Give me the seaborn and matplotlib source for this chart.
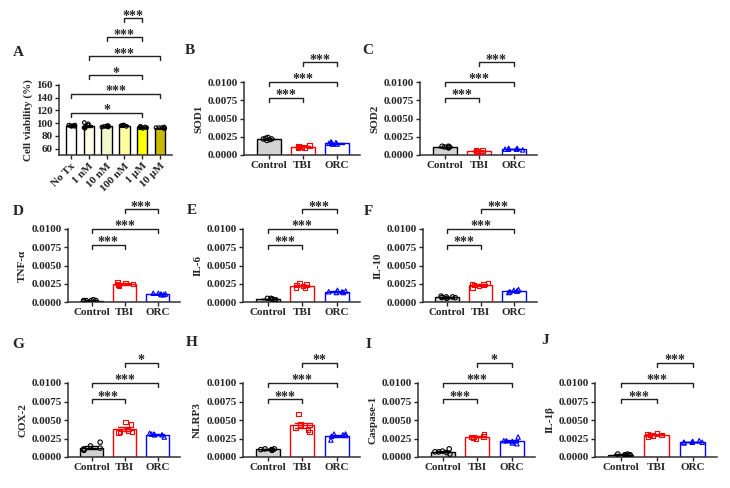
import numpy as np
import pandas as pd
import matplotlib.pyplot as plt
import matplotlib.ticker as mticker
import seaborn as sns

sns.set_style('ticks')
plt.rcParams['font.family'] = ['Liberation Serif', 'DejaVu Serif']
plt.rcParams['font.weight'] = 'bold'
plt.rcParams['axes.labelweight'] = 'bold'

# ---- data ----
dose_groups = ['No Tx', '1 nM', '10 nM', '100 nM', '1 μM', '10 μM']
dose_values = [
    [95, 96, 97, 96, 95, 97],
    [92, 95, 101, 97, 93, 99],
    [94, 95, 96, 95, 94, 96],
    [96, 97, 96, 95, 97, 96],
    [92, 94, 95, 93, 94, 93],
    [92, 93, 94, 92, 93, 93],
]
dose_sigs = [(0, 4, '*', 116), (0, 5, '***', 146), (1, 4, '*', 175),
             (1, 5, '***', 205), (2, 4, '***', 235), (3, 4, '***', 265)]

groups = ['Control', 'TBI', 'ORC']

sod1 = [[0.0022, 0.0021, 0.0023, 0.0022, 0.0020, 0.0024],
        [0.0010, 0.0012, 0.0011, 0.0013, 0.0010, 0.0011],
        [0.0015, 0.0017, 0.0016, 0.0018, 0.0015, 0.0016]]
sod2 = [[0.0011, 0.0012, 0.0010, 0.0011, 0.0012, 0.0010],
        [0.0005, 0.0006, 0.0005, 0.0004, 0.0006, 0.0005],
        [0.0008, 0.0009, 0.0007, 0.0008, 0.0009, 0.0008]]
tnf = [[0.0002, 0.0002, 0.0003, 0.0002, 0.0001, 0.0002],
       [0.0023, 0.0027, 0.0025, 0.0026, 0.0022, 0.0025],
       [0.0011, 0.0012, 0.0010, 0.0012, 0.0011, 0.0010]]
il6 = [[0.0004, 0.0005, 0.0003, 0.0004, 0.0005, 0.0003],
       [0.0020, 0.0026, 0.0022, 0.0023, 0.0019, 0.0024],
       [0.0014, 0.0015, 0.0013, 0.0016, 0.0014, 0.0013]]
il10 = [[0.0006, 0.0007, 0.0005, 0.0007, 0.0006, 0.0008],
        [0.0019, 0.0026, 0.0024, 0.0023, 0.0022, 0.0025],
        [0.0013, 0.0017, 0.0015, 0.0016, 0.0014, 0.0015]]
cox2 = [[0.0020, 0.0015, 0.0011, 0.0010, 0.0009, 0.0012],
        [0.0047, 0.0044, 0.0033, 0.0034, 0.0036, 0.0034],
        [0.0030, 0.0032, 0.0027, 0.0031, 0.0030, 0.0031]]
nlrp3 = [[0.0010, 0.0011, 0.0009, 0.0011, 0.0010, 0.0010],
         [0.0058, 0.0044, 0.0043, 0.0040, 0.0034, 0.0037],
         [0.0029, 0.0031, 0.0023, 0.0028, 0.0030, 0.0031]]
casp1 = [[0.0006, 0.0008, 0.0007, 0.0011, 0.0004, 0.0007],
         [0.0027, 0.0028, 0.0031, 0.0027, 0.0026, 0.0025],
         [0.0019, 0.0022, 0.0027, 0.0021, 0.0018, 0.0022]]
il1b = [[0.0003, 0.0003, 0.0004, 0.0002, 0.0003, 0.0004],
        [0.0031, 0.0028, 0.0030, 0.0029, 0.0032, 0.0030],
        [0.0020, 0.0021, 0.0022, 0.0019, 0.0020, 0.0020]]

panel_labels = ['B', 'C', 'D', 'E', 'F', 'G', 'H', 'I', 'J']
panel_ylabels = ['SOD1', 'SOD2', 'TNF-α', 'IL-6', 'IL-10', 'COX-2', 'NLRP3', 'Caspase-1', 'IL-1β']
panel_data = [sod1, sod2, tnf, il6, il10, cox2, nlrp3, casp1, il1b]
panel_top_sig = ['***', '***', '***', '***', '***', '*', '**', '*', '***']

# ---- style ----
dose_fills = ['#ffffff', '#fffde6', '#f2f8cc', '#ffffa0', '#ffff00', '#c8ba00']
grp_fills = ['#d3d3d3', '#ffffff', '#ffffff']
grp_edges = ['black', 'red', 'blue']
grp_markers = ['o', 's', '^']

W, H = 730, 488
# axes boxes in pixels: (left, right, top, bottom)
boxes = {
    'A': (59, 172, 85, 155),
    'B': (244, 360, 82, 155), 'C': (420, 537, 82, 155),
    'D': (68, 180, 229, 302), 'E': (243, 360, 229, 302), 'F': (423, 537, 229, 302),
    'G': (68, 180, 383, 457), 'H': (243, 360, 383, 457), 'I': (418, 535, 383, 457),
    'J': (595, 717, 383, 457),
}
letter_pos = {'A': (18, 52), 'B': (190, 50), 'C': (368, 50), 'D': (18, 212),
              'E': (192, 210), 'F': (368, 212), 'G': (18, 344), 'H': (192, 342),
              'I': (368, 344), 'J': (545, 340)}

fig = plt.figure(figsize=(W / 100, H / 100), dpi=100)


def make_ax(key):
    l, r, t, b = boxes[key]
    ax = fig.add_axes([l / W, 1 - b / H, (r - l) / W, (b - t) / H])
    fig.text(letter_pos[key][0] / W, 1 - letter_pos[key][1] / H, key,
             fontsize=11, fontweight='bold', ha='center', va='center')
    return ax


def bracket(ax, x1, x2, y, tip, label):
    ax.plot([x1, x1, x2, x2], [y - tip, y, y, y - tip], color='#222222',
            lw=1.0, clip_on=False)
    ax.annotate(label, (0.5 * (x1 + x2), y), xytext=(0, -1),
                textcoords='offset points', ha='center', va='baseline',
                fontsize=10, fontweight='bold', annotation_clip=False)


def draw_groups(ax, names, values, fills, edges, markers, width, msize):
    df = pd.DataFrame({'group': np.repeat(names, [len(v) for v in values]),
                       'value': np.concatenate(values)})
    for i, g in enumerate(names):
        sub = df[df.group == g]
        sns.barplot(data=sub, x='group', y='value', order=names, color=fills[i],
                    saturation=1, edgecolor=edges[i], linewidth=1.0, width=width,
                    errorbar='se', capsize=0.4,
                    err_kws={'color': edges[i], 'linewidth': 1.0}, ax=ax)
        n_before = len(ax.collections)
        sns.stripplot(data=sub, x='group', y='value', order=names, marker=markers[i],
                      size=msize, jitter=0.28, color=edges[i], ax=ax)
        for pts in ax.collections[n_before:]:
            pts.set_facecolor('none')
            pts.set_edgecolor(edges[i])
            pts.set_linewidth(0.8)
    ax.set_xlabel('')


def style_ax(ax):
    for s in ['top', 'right']:
        ax.spines[s].set_visible(False)
    for s in ['left', 'bottom']:
        ax.spines[s].set_linewidth(1.1)
        ax.spines[s].set_color('#333333')
    ax.tick_params(axis='both', length=3, width=1, labelsize=8, pad=1.5)


np.random.seed(3)

# ---- panel A ----
ax = make_ax('A')
draw_groups(ax, dose_groups, dose_values, dose_fills, ['black'] * 6, ['o'] * 6, 0.58, 2.6)
ax.set_ylim(50, 160)
ax.set_yticks([60, 80, 100, 120, 140, 160])
ax.set_xlim(-0.67, 5.67)
ax.set_ylabel('Cell viability (%)', fontsize=8, labelpad=2)
style_ax(ax)
ax.set_xticks(range(len(dose_groups)))
ax.set_xticklabels(dose_groups, rotation=45, ha='right', rotation_mode='anchor')
for x1, x2, lab, y in dose_sigs:
    bracket(ax, x1, x2, y, 6, lab)

# ---- panels B-J ----
for key, ylab, vals, top in zip(panel_labels, panel_ylabels, panel_data, panel_top_sig):
    ax = make_ax(key)
    draw_groups(ax, groups, vals, grp_fills, grp_edges, grp_markers, 0.7, 3.2)
    ax.set_ylim(0, 0.01)
    ax.set_yticks([0, 0.0025, 0.005, 0.0075, 0.01])
    ax.yaxis.set_major_formatter(mticker.FormatStrFormatter('%.4f'))
    ax.set_xlim(-0.72, 2.68)
    ax.set_ylabel(ylab, fontsize=8, labelpad=3)
    style_ax(ax)
    bracket(ax, 0, 1, 0.0078, 0.0005, '***')
    bracket(ax, 0, 2, 0.0100, 0.0005, '***')
    bracket(ax, 1, 2, 0.0127, 0.0005, top)

fig.savefig('out.png', dpi=100)
